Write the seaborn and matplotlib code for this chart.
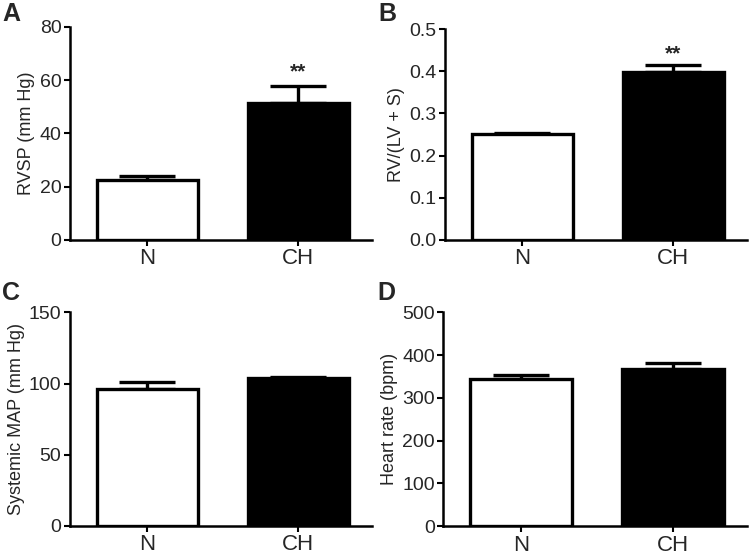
import numpy as np
import pandas as pd
import matplotlib
matplotlib.use('Agg')
import matplotlib.pyplot as plt
import seaborn as sns

groups = ['N', 'CH']
rvsp_mean = [22.4, 51.3]
rvsp_sem = [1.5, 6.4]
fulton_mean = [0.250, 0.399]
fulton_sem = [0.004, 0.015]
map_mean = [96.0, 104.0]
map_sem = [5.2, 0.8]
hr_mean = [345.0, 368.0]
hr_sem = [9.0, 14.0]

panels = [
    ('A', 'RVSP (mm Hg)', rvsp_mean, rvsp_sem, (0, 80), [0, 20, 40, 60, 80], '{:.0f}', 63.0),
    ('B', 'RV/(LV + S)', fulton_mean, fulton_sem, (0, 0.5), [0, 0.1, 0.2, 0.3, 0.4, 0.5], '{:.1f}', 0.44),
    ('C', 'Systemic MAP (mm Hg)', map_mean, map_sem, (0, 150), [0, 50, 100, 150], '{:.0f}', None),
    ('D', 'Heart rate (bpm)', hr_mean, hr_sem, (0, 500), [0, 100, 200, 300, 400, 500], '{:.0f}', None),
]

sns.set_theme(style='ticks')
plt.rcParams['font.family'] = ['Liberation Sans', 'DejaVu Sans']

fig = plt.figure(figsize=(7.5, 5.58), dpi=100)
boxes = [
    (0.093, 0.570, 0.403, 0.382),
    (0.593, 0.570, 0.403, 0.378),
    (0.093, 0.058, 0.403, 0.382),
    (0.591, 0.057, 0.405, 0.383),
]
letter_pos = [(0.003, 0.997), (0.505, 0.997), (0.003, 0.497), (0.503, 0.497)]

for (letter, ylabel, mean, sem, ylim, yticks, fmt, star_y), box, lp in zip(panels, boxes, letter_pos):
    ax = fig.add_axes(box)
    df = pd.DataFrame({'group': groups, 'value': mean})
    sns.barplot(data=df, x='group', y='value', hue='group', palette=['white', 'black'],
                edgecolor='black', linewidth=2.4, width=0.67, legend=False, ax=ax)
    # upward-only SEM bars, drawn behind the bars
    ax.errorbar([0, 1], mean, yerr=[[0, 0], sem], fmt='none', ecolor='black',
                elinewidth=2.4, capsize=20, capthick=2.4, zorder=1)
    for p in ax.patches:
        p.set_zorder(2)
    if star_y is not None:
        ax.text(1, star_y, '**', ha='center', va='center', fontsize=15, fontweight='bold')
    ax.set_ylim(*ylim)
    ax.set_xlim(-0.513, 1.487)
    ax.set_yticks(yticks)
    ax.set_yticklabels([fmt.format(t) for t in yticks], fontsize=14)
    ax.set_xticks([0, 1])
    ax.set_xticklabels(groups, fontsize=16)
    ax.set_xlabel('')
    ax.set_ylabel(ylabel, fontsize=13, labelpad=3)
    for s in ['top', 'right']:
        ax.spines[s].set_visible(False)
    for s in ['left', 'bottom']:
        ax.spines[s].set_linewidth(1.8)
        ax.spines[s].set_color('black')
    ax.tick_params(axis='both', width=1.5, length=4, color='black', pad=2)
    fig.text(lp[0], lp[1], letter, fontsize=18, fontweight='bold', ha='left', va='top')

fig.savefig('out.png', dpi=100)
